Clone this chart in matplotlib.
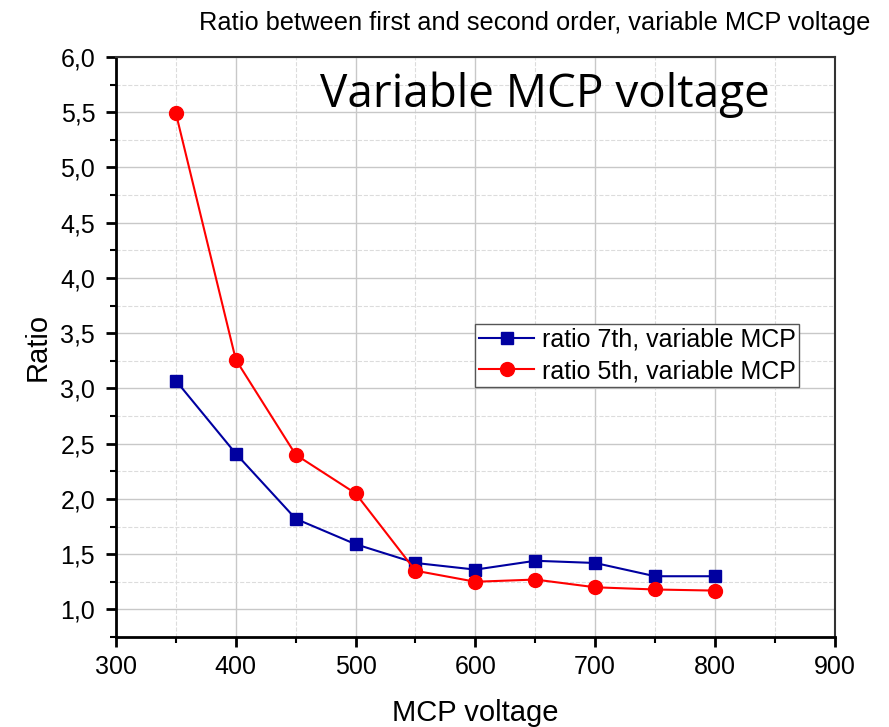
import numpy as np
import matplotlib
matplotlib.use('Agg')
import matplotlib.pyplot as plt
from matplotlib.ticker import MultipleLocator, FuncFormatter

# data
voltage = [350, 400, 450, 500, 550, 600, 650, 700, 750, 800]
ratio7 = [3.07, 2.41, 1.82, 1.59, 1.42, 1.36, 1.44, 1.42, 1.30, 1.30]
ratio5 = [5.49, 3.26, 2.40, 2.05, 1.35, 1.25, 1.27, 1.20, 1.18, 1.17]
labels = ['ratio 7th, variable MCP', 'ratio 5th, variable MCP']

plt.rcParams['font.family'] = ['Liberation Sans', 'DejaVu Sans']

fig = plt.figure(figsize=(8.89, 7.27), dpi=100)
ax = fig.add_axes([0.1305, 0.1238, 0.8085, 0.7978])

ax.plot(voltage, ratio7, '-s', color='#0000a0', ms=9, lw=1.5, label=labels[0], zorder=3)
ax.plot(voltage, ratio5, '-o', color='#ff0000', ms=10, lw=1.5, label=labels[1], zorder=3)

ax.set_xlim(300, 900)
ax.set_ylim(0.75, 6.0)
ax.xaxis.set_major_locator(MultipleLocator(100))
ax.xaxis.set_minor_locator(MultipleLocator(50))
ax.yaxis.set_major_locator(MultipleLocator(0.5))
ax.yaxis.set_minor_locator(MultipleLocator(0.25))
ax.yaxis.set_major_formatter(FuncFormatter(lambda v, p: ('%.1f' % v).replace('.', ',')))

ax.grid(which='major', color='#c8c8c8', lw=1.0, zorder=0)
ax.grid(which='minor', color='#dcdcdc', lw=0.8, ls='--', zorder=0)

for s in ['left', 'bottom']:
    ax.spines[s].set_linewidth(2.0)
for s in ['top', 'right']:
    ax.spines[s].set_linewidth(1.5)
    ax.spines[s].set_color('#333333')
ax.tick_params(which='major', direction='out', length=7, width=2, labelsize=18)
ax.tick_params(axis='x', which='major', pad=6)
ax.tick_params(axis='y', which='major', pad=8)
ax.tick_params(which='minor', direction='out', length=4.5, width=1.5)

ax.set_xlabel('MCP voltage', fontsize=21)
ax.set_ylabel('Ratio', fontsize=21)
ax.xaxis.set_label_coords(0.5, -0.107)
ax.yaxis.set_label_coords(-0.09, 0.5)
fig.text(0.602, 0.969, 'Ratio between first and second order, variable MCP voltage',
         ha='center', va='center', fontsize=18.3)
ax.text(0.596, 0.935, 'Variable MCP voltage', transform=ax.transAxes, ha='center', va='center',
        fontsize=33, family=['Open Sans', 'DejaVu Sans'])

leg = ax.legend(loc='upper left', bbox_to_anchor=(0.5, 0.54), fontsize=18, fancybox=False,
                edgecolor='#555555', framealpha=1, borderpad=0.15, handlelength=2.2,
                handletextpad=0.3, borderaxespad=0, labelspacing=0.3)
leg.get_frame().set_linewidth(1.0)

fig.savefig('out.png', dpi=100)
